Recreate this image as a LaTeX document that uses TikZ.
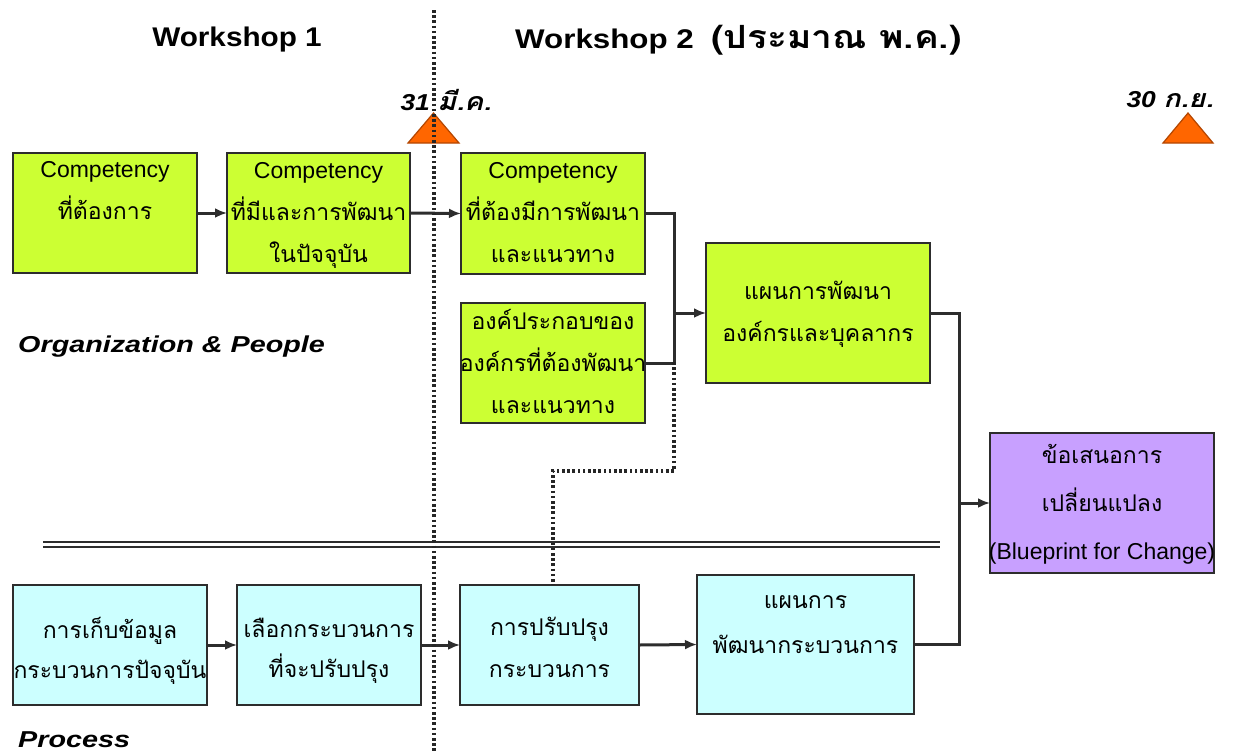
\documentclass[tikz,border=0pt]{standalone}
\usepackage{fontspec}
\setmainfont{Liberation Sans}
\newfontfamily\thai[Script=Thai]{Loma}
\usetikzlibrary{arrows.meta}
\definecolor{gfill}{RGB}{204,255,51}
\definecolor{cfill}{RGB}{204,255,255}
\definecolor{pfill}{RGB}{200,160,255}
\definecolor{edge}{RGB}{45,45,45}
\definecolor{trifill}{RGB}{255,102,0}
\definecolor{tridraw}{RGB}{180,70,0}
\begin{document}
\begin{tikzpicture}[x=1pt,y=-1pt,
  box/.style={draw=edge, line width=2.6pt, anchor=north west, inner sep=0pt, outer sep=0pt},
  gbox/.style={box, fill=gfill},
  cbox/.style={box, fill=cfill},
  pbox/.style={box, fill=pfill},
  tx/.style={align=center, inner sep=0pt, font=\fontsize{23}{42}\selectfont},
  conn/.style={draw=edge, line width=3pt},
  arr/.style={conn, -{Latex[length=12pt,width=10pt]}},
  dots/.style={draw=black!85, line width=4pt, dash pattern=on 2.6pt off 2.6pt},
  tri/.style={fill=trifill, draw=tridraw, line width=1.2pt},
  head/.style={font=\bfseries\fontsize{27}{30}\selectfont, inner sep=0pt},
  bi/.style={font=\bfseries\itshape\fontsize{23}{26}\selectfont, inner sep=0pt}
]
\useasboundingbox (0,0) rectangle (1234,753);

% boxes
\node[gbox, minimum width=184pt, minimum height=120pt] (A) at (13,153) {};
\node[gbox, minimum width=183pt, minimum height=120pt] (B) at (227,153) {};
\node[gbox, minimum width=184pt, minimum height=121pt] (C) at (461,153) {};
\node[gbox, minimum width=184pt, minimum height=120pt] (D) at (461,303) {};
\node[gbox, minimum width=224pt, minimum height=140pt] (E) at (706,243) {};
\node[pbox, minimum width=224pt, minimum height=140pt] (F) at (990,433) {};
\node[cbox, minimum width=194pt, minimum height=120pt] (G) at (13,585) {};
\node[cbox, minimum width=184pt, minimum height=120pt] (H) at (237,585) {};
\node[cbox, minimum width=179pt, minimum height=120pt] (I) at (460,585) {};
\node[cbox, minimum width=217pt, minimum height=139pt] (J) at (697,575) {};

% box texts
\node[tx] (tA) at (105,191) {Competency\\{\thai ที่ต้องการ}};
\node[tx] (tB) at (318.5,215) {Competency\\{\thai ที่มีและการพัฒนา}\\{\thai ในปัจจุบัน}};
\node[tx] (tC) at (553,213) {Competency\\{\thai ที่ต้องมีการพัฒนา}\\{\thai และแนวทาง}};
\node[tx] (tD) at (553,361) {\thai องค์ประกอบของ\\\thai องค์กรที่ต้องพัฒนา\\\thai และแนวทาง};
\node[tx] (tE) at (818,314) {\thai แผนการพัฒนา\\\thai องค์กรและบุคลากร};
\node[tx, font=\fontsize{23}{48}\selectfont] (tF) at (1102,504) {{\thai ข้อเสนอการ}\\{\thai เปลี่ยนแปลง}\\(Blueprint for Change)};
\node[tx, font=\fontsize{23}{40}\selectfont] (tG) at (110,651) {\thai การเก็บข้อมูล\\\thai กระบวนการปัจจุบัน};
\node[tx, font=\fontsize{23}{40}\selectfont] (tH) at (329,651) {\thai เลือกกระบวนการ\\\thai ที่จะปรับปรุง};
\node[tx] (tI) at (549.5,647) {\thai การปรับปรุง\\\thai กระบวนการ};
\node[tx, font=\fontsize{23}{45}\selectfont] (tJ) at (805.5,625) {\thai แผนการ\\\thai พัฒนากระบวนการ};

% headings and labels
\node[head] (w1) at (237,40) {\scalebox{1.1}[1]{Workshop 1}};
\node[head, anchor=west] (w2) at (515,40) {\scalebox{1.16}[1]{Workshop 2 \ {\thai\fontsize{32}{34}\selectfont (ประมาณ พ.ค.)}}};
\node[bi] (d1) at (446,100) {\scalebox{1.15}[1]{31 {\thai\fontsize{25}{28}\selectfont มี.ค.}}};
\node[bi] (d2) at (1170,100) {\scalebox{1.15}[1]{30 {\thai\fontsize{25}{28}\selectfont ก.ย.}}};
\node[bi, anchor=west] (op) at (18,347) {\scalebox{1.25}[1]{Organization \& People}};
\node[bi, anchor=west] (pr) at (18,740) {\scalebox{1.25}[1]{Process}};

% milestones
\draw[tri] (408,143) -- (433.5,113) -- (459,143) -- cycle;
\draw[tri] (1163,143) -- (1188,113) -- (1213,143) -- cycle;

% separator
\draw[draw=edge, line width=2pt] (43,542) -- (940,542);
\draw[draw=edge, line width=2pt] (43,546.5) -- (940,546.5);

% connectors
\coordinate (jn) at (674,313);
\coordinate (dj) at (674,362);
\coordinate (dk) at (553,471);
\coordinate (bus) at (959,503);
\draw[arr] (A.east) -- (B.west);
\draw[arr] (B.east) -- (C.west);
\draw[conn] (C.east) -| (jn);
\draw[conn] (D.east) -| (jn);
\draw[arr] (jn) -- (E.west);
\draw[dots] (dj) |- (dk) -- (dk |- I.north);
\draw[conn] (E.east) -| (bus);
\draw[conn] (J.east) -| (bus);
\draw[arr] (bus) -- (F.west);
\draw[arr] (G.east) -- (H.west);
\draw[arr] (H.east) -- (I.west);
\draw[arr] (I.east) -- (J.west);

% workshop divider
\coordinate (vt) at (434,10);
\coordinate (vb) at (434,753);
\draw[dots] (vt) -- (vb);
\end{tikzpicture}
\end{document}
